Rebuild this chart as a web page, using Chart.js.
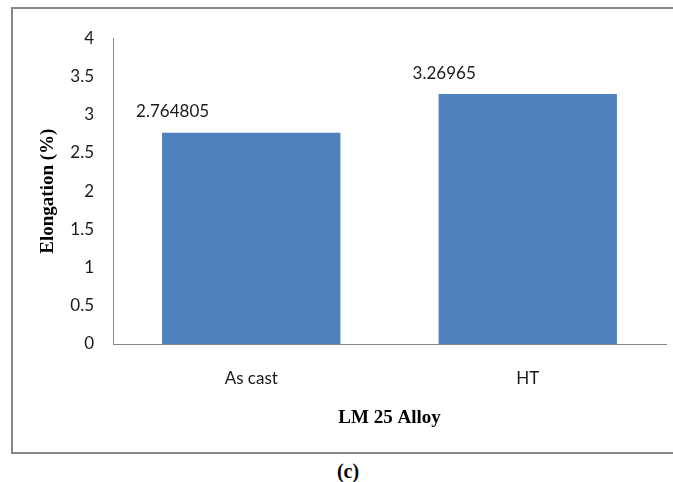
<!DOCTYPE html>
<html>
<head>
<meta charset="utf-8">
<script src="https://cdn.jsdelivr.net/npm/chart.js@4/dist/chart.umd.min.js"></script>
<style>
  html { overflow:hidden; }
  body { margin:0; background:#fff; width:673px; height:482px; overflow:hidden; position:relative; }
  .frame { position:absolute; left:11px; top:7px; width:700px; height:443px; border:2px solid #878787; border-right:none; }
  .wrap { position:absolute; left:0; top:0; width:660px; height:443px; }
  .caption { position:absolute; left:298px; width:100px; top:460px; text-align:center;
    font:bold 20px "Liberation Serif", serif; color:#000; }
</style>
</head>
<body>
<div class="frame"><div class="wrap"><canvas id="chart"></canvas></div></div>
<div class="caption">(c)</div>
<script>
// ---- data ----
const categories = ["As cast", "HT"];
const elongation = [2.764805, 3.26965];
const yTicks = [0, 0.5, 1, 1.5, 2, 2.5, 3, 3.5, 4];

const tickFont = { family: "Lato", size: 17 };
const titleFont = { family: "Liberation Serif", size: 19, weight: "bold" };

// value labels above bars (Excel puts them a bit left of each bar)
const barLabels = {
  id: "barLabels",
  afterDatasetsDraw(chart) {
    const ctx = chart.ctx;
    const meta = chart.getDatasetMeta(0);
    ctx.save();
    ctx.font = "17px Lato";
    ctx.fillStyle = "#1a1a1a";
    ctx.textAlign = "left";
    ctx.textBaseline = "middle";
    meta.data.forEach((bar, i) => {
      ctx.fillText(String(elongation[i]), bar.x - bar.width / 2 - 26, bar.y - 21);
    });
    ctx.restore();
  }
};

new Chart(document.getElementById("chart"), {
  type: "bar",
  data: {
    labels: categories,
    datasets: [{
      data: elongation,
      backgroundColor: "#4F81BD",
      borderWidth: 0,
      barPercentage: 0.645,
      categoryPercentage: 1
    }]
  },
  options: {
    responsive: true,
    maintainAspectRatio: false,
    animation: false,
    layout: { padding: { top: 23, right: 7, left: 0, bottom: 0 } },
    plugins: { legend: { display: false }, tooltip: { enabled: false } },
    scales: {
      x: {
        grid: { display: false, drawTicks: false },
        border: { display: true, color: "#868686", width: 1 },
        ticks: { color: "#1a1a1a", font: tickFont, padding: 24 },
        title: { display: true, text: "LM 25 Alloy", color: "#000", font: titleFont, padding: { top: 0, bottom: 23 } },
        afterFit(s) { s.height = 108; }
      },
      y: {
        min: 0, max: 4,
        afterBuildTicks(s) { s.ticks = yTicks.map(v => ({ value: v })); },
        grid: { display: false, drawTicks: false },
        border: { display: true, color: "#868686", width: 1 },
        ticks: { color: "#1a1a1a", font: tickFont, padding: 19, callback: v => String(v) },
        title: { display: true, text: "Elongation (%)", color: "#000", font: titleFont, padding: { top: 24, bottom: 0 } },
        afterFit(s) { s.width = 100; }
      }
    }
  },
  plugins: [barLabels]
});
</script>
</body>
</html>
